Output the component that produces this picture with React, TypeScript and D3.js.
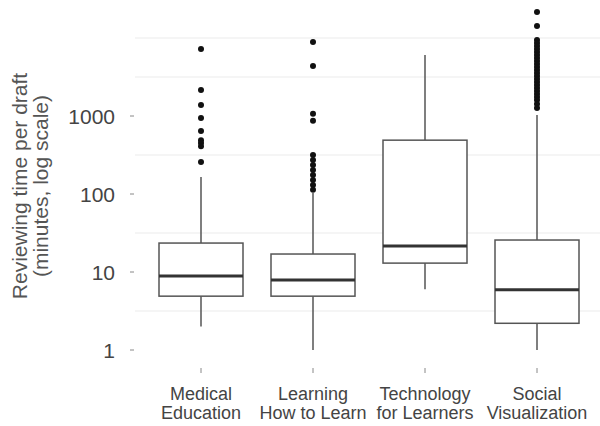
import React, { useRef, useEffect } from 'react'
import * as d3 from 'd3'

// boxplot stats (minutes)
const categories = ['Medical Education', 'Learning How to Learn', 'Technology for Learners', 'Social Visualization']
const labelLines = [
  ['Medical', 'Education'],
  ['Learning', 'How to Learn'],
  ['Technology', 'for Learners'],
  ['Social', 'Visualization'],
]
const whiskerLow = [2, 1, 6, 1]
const q1 = [4.9, 4.9, 13, 2.2]
const medians = [8.9, 7.9, 21.5, 5.9]
const q3 = [23.5, 17, 490, 25.7]
const whiskerHigh = [165, 103, 6050, 1030]

const medicalOutliers = [7230, 2150, 1380, 940, 640, 490, 450, 410, 257]
const learningOutliers = [8900, 4370, 1070, 870, 316, 273, 235, 203, 175, 151, 130, 113]
const technologyOutliers: number[] = []
const socialOutliers = [
  21500, 14250, 9430, 8630, 7890, 7230, 6620, 6050, 5540, 5070, 4640, 4250, 3890,
  3560, 3260, 2980, 2730, 2500, 2290, 2090, 1920, 1750, 1600, 1430, 1270,
]
const outliers = [medicalOutliers, learningOutliers, technologyOutliers, socialOutliers]

const yTicks = [1, 10, 100, 1000]
const minorGrid = [3.162, 31.62, 316.2, 3162, 10000]

const W = 600
const H = 426

function BoxChart() {
  const ref = useRef<SVGSVGElement>(null)

  useEffect(() => {
    const svg = d3.select(ref.current)
    svg.selectAll('*').remove()

    const y = d3.scaleLog().domain([1, 10000]).range([350, 38])
    const x = d3.scalePoint<string>().domain(categories).range([201, 537])
    const boxW = 84
    const panelLeft = 135
    const font = 'Liberation Sans, Arial, sans-serif'

    svg.append('rect').attr('width', W).attr('height', H).attr('fill', '#fff')

    // faint grid
    svg
      .append('g')
      .selectAll('line')
      .data(minorGrid)
      .enter()
      .append('line')
      .attr('x1', panelLeft)
      .attr('x2', W)
      .attr('y1', d => y(d))
      .attr('y2', d => y(d))
      .attr('stroke', '#ececec')
      .attr('stroke-width', 1.2)

    // y axis ticks + labels
    const yAxis = svg.append('g')
    yAxis
      .selectAll('line')
      .data(yTicks)
      .enter()
      .append('line')
      .attr('x1', 130)
      .attr('x2', 134)
      .attr('y1', d => y(d))
      .attr('y2', d => y(d))
      .attr('stroke', '#888')
      .attr('stroke-width', 1)
    yAxis
      .selectAll('text')
      .data(yTicks)
      .enter()
      .append('text')
      .attr('x', 115)
      .attr('y', d => y(d))
      .attr('dy', '0.36em')
      .attr('text-anchor', 'end')
      .attr('font-family', font)
      .attr('font-size', 21)
      .attr('fill', '#444')
      .text(d => String(d))

    // y title
    const title = svg
      .append('text')
      .attr('transform', 'translate(0,186) rotate(-90)')
      .attr('text-anchor', 'middle')
      .attr('font-family', font)
      .attr('font-size', 21)
      .attr('fill', '#555')
    title.append('tspan').attr('x', 0).attr('y', 27).text('Reviewing time per draft')
    title.append('tspan').attr('x', 0).attr('y', 48).text('(minutes, log scale)')

    // x ticks + labels
    const xAxis = svg.append('g')
    xAxis
      .selectAll('line')
      .data(categories)
      .enter()
      .append('line')
      .attr('x1', d => x(d)!)
      .attr('x2', d => x(d)!)
      .attr('y1', 368)
      .attr('y2', 373)
      .attr('stroke', '#888')
    const xl = xAxis
      .selectAll('text')
      .data(categories)
      .enter()
      .append('text')
      .attr('text-anchor', 'middle')
      .attr('font-family', font)
      .attr('font-size', 18)
      .attr('fill', '#444')
    xl.each(function (d, i) {
      const t = d3.select(this)
      labelLines[i].forEach((ln, j) => {
        t.append('tspan').attr('x', x(d)!).attr('y', 400 + j * 19).text(ln)
      })
    })

    // boxes
    const boxes = svg
      .append('g')
      .selectAll('g.box')
      .data(categories)
      .enter()
      .append('g')
      .attr('class', 'box')

    const stroke = '#555'
    boxes
      .append('line')
      .attr('x1', d => x(d)!)
      .attr('x2', d => x(d)!)
      .attr('y1', (d, i) => y(q3[i]))
      .attr('y2', (d, i) => y(whiskerHigh[i]))
      .attr('stroke', stroke)
      .attr('stroke-width', 1.5)
    boxes
      .append('line')
      .attr('x1', d => x(d)!)
      .attr('x2', d => x(d)!)
      .attr('y1', (d, i) => y(q1[i]))
      .attr('y2', (d, i) => y(whiskerLow[i]))
      .attr('stroke', stroke)
      .attr('stroke-width', 1.5)
    boxes
      .append('rect')
      .attr('x', d => x(d)! - boxW / 2)
      .attr('width', boxW)
      .attr('y', (d, i) => y(q3[i]))
      .attr('height', (d, i) => y(q1[i]) - y(q3[i]))
      .attr('fill', '#fff')
      .attr('stroke', stroke)
      .attr('stroke-width', 1.5)
    boxes
      .append('line')
      .attr('x1', d => x(d)! - boxW / 2)
      .attr('x2', d => x(d)! + boxW / 2)
      .attr('y1', (d, i) => y(medians[i]))
      .attr('y2', (d, i) => y(medians[i]))
      .attr('stroke', '#333')
      .attr('stroke-width', 3)

    boxes.each(function (d, i) {
      d3.select(this)
        .selectAll('circle')
        .data(outliers[i])
        .enter()
        .append('circle')
        .attr('cx', x(d)!)
        .attr('cy', v => y(v))
        .attr('r', 3)
        .attr('fill', '#111')
    })
  }, [])

  return (
    <svg
      ref={ref}
      width={W}
      height={H}
      style={{ position: 'absolute', left: 0, top: 0, display: 'block' }}
    />
  )
}

export default function App() {
  return <BoxChart />
}
